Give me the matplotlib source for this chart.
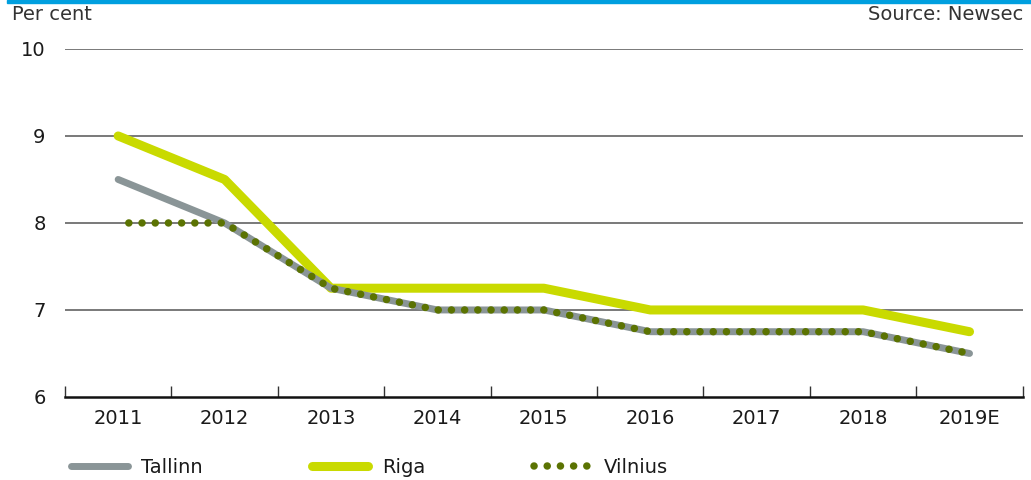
import matplotlib
matplotlib.use("Agg")
import matplotlib.pyplot as plt
from matplotlib.patches import Rectangle

years = ["2011", "2012", "2013", "2014", "2015", "2016", "2017", "2018", "2019E"]
tallinn = [8.5, 8.0, 7.25, 7.0, 7.0, 6.75, 6.75, 6.75, 6.5]
riga = [9.0, 8.5, 7.25, 7.25, 7.25, 7.0, 7.0, 7.0, 6.75]
vilnius = [8.0, 8.0, 7.25, 7.0, 7.0, 6.75, 6.75, 6.75, 6.5]
yticks = [6, 7, 8, 9, 10]

plt.rcParams['font.family'] = ['DejaVu Sans']

fig = plt.figure(figsize=(10.31, 4.8), dpi=100)
ax = fig.add_axes([0.063, 0.173, 0.929, 0.725])

x = list(range(len(years)))
ax.plot(x, tallinn, color='#8a9597', lw=5, solid_capstyle='round', label='Tallinn', zorder=3)
ax.plot(x, riga, color='#c9da00', lw=6.5, solid_capstyle='round', label='Riga', zorder=2)
# Vilnius dotted line starts a little right of the 2011 centre
ax.plot([v + 0.1 if i == 0 else v for i, v in enumerate(x)], vilnius, color='#5b7302', lw=5.4,
        linestyle=(0, (0.01, 1.75)), dash_capstyle='round', label='Vilnius', zorder=4)

ax.set_xlim(-0.5, len(years) - 0.5)
ax.set_ylim(6, 10)
ax.set_yticks(yticks)
ax.set_yticklabels([str(t) for t in yticks])
for t in yticks[1:]:
    ax.axhline(t, color='#555555', lw=1.1, zorder=1)

ax.set_xticks([i - 0.5 for i in range(len(years) + 1)])
ax.set_xticklabels([])
ax.set_xticks(x, minor=True)
ax.set_xticklabels(years, minor=True, fontsize=14, color='#1a1a1a')
ax.tick_params(axis='x', which='major', direction='in', length=8, width=1, color='#333333')
ax.tick_params(axis='x', which='minor', length=0, pad=9)
ax.tick_params(axis='y', length=0, pad=14, labelsize=14, labelcolor='#1a1a1a')

for s in ['top', 'right', 'left']:
    ax.spines[s].set_visible(False)
ax.spines['bottom'].set_linewidth(1.8)
ax.spines['bottom'].set_color('#111111')

fig.text(0.012, 0.97, "Per cent", fontsize=14, color='#333333', va='center', ha='left')
fig.text(0.992, 0.97, "Source: Newsec", fontsize=14, color='#333333', va='center', ha='right')
fig.patches.append(Rectangle((0.007, 0.993), 0.993, 0.007, transform=fig.transFigure,
                             color='#009fdf', zorder=0))

leg = fig.legend(loc='lower left', bbox_to_anchor=(0.052, -0.03), ncol=3, frameon=False,
                 handlelength=2.9, handletextpad=0.7, columnspacing=5.6,
                 prop={'size': 14})
for t in leg.get_texts():
    t.set_color('#1a1a1a')

fig.savefig("out.png", dpi=100)
